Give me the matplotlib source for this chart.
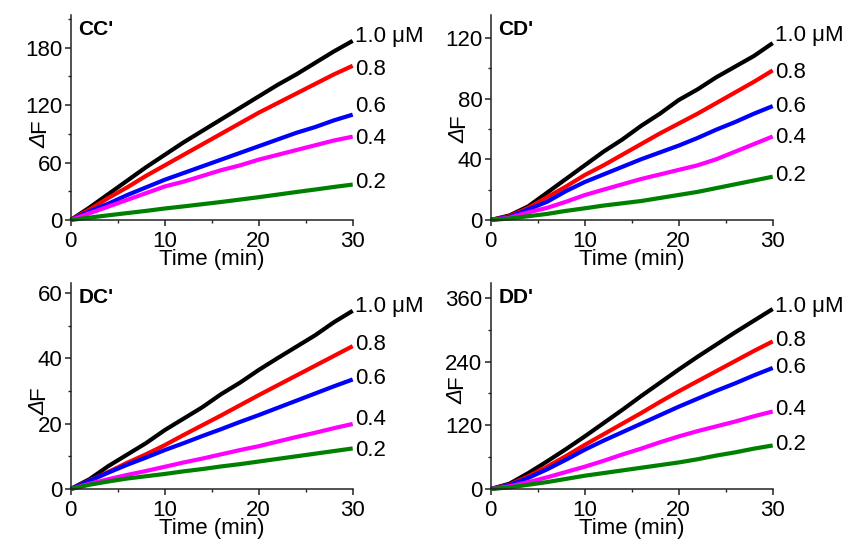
import matplotlib
matplotlib.use("Agg")
import matplotlib.pyplot as plt
from matplotlib.ticker import MultipleLocator

plt.rcParams['font.family'] = ['Liberation Sans', 'DejaVu Sans']

time = [0, 2, 4, 6, 8, 10, 12, 14, 16, 18, 20, 22, 24, 26, 28, 30]
conc_labels = ["1.0 μM", "0.8", "0.6", "0.4", "0.2"]
colors = ["#000000", "#ff0000", "#0000ff", "#ff00ff", "#008000"]

panel_names = ["CC'", "CD'", "DC'", "DD'"]

cc_10 = [0, 13, 27, 41, 55, 68, 81, 93, 105, 117, 129, 141, 152, 164, 176, 187]
cc_08 = [0, 11, 23, 34, 46, 57, 68, 79, 90, 101, 112, 122, 132, 142, 152, 161]
cc_06 = [0, 9, 17, 26, 34, 42, 49, 56, 63, 70, 77, 84, 91, 97, 104, 110]
cc_04 = [0, 7, 14, 21, 28, 35, 40, 46, 52, 57, 63, 68, 73, 78, 83, 87]
cc_02 = [0, 2.5, 4.9, 7.2, 9.5, 12, 14.2, 16.5, 18.8, 21.3, 23.8, 26.5, 29.2, 31.8, 34.5, 37]

cd_10 = [0, 3, 9, 18, 27, 36, 45, 53, 62, 70, 79, 86, 94, 101, 108, 116.5]
cd_08 = [0, 2.5, 8, 15, 22, 29.6, 36, 43, 50, 57, 63.5, 70, 77, 84, 91, 98.5]
cd_06 = [0, 2, 7, 12, 19, 25, 30, 35, 40, 44.5, 49, 54, 59.5, 64.5, 70, 75]
cd_04 = [0, 1.5, 5, 8, 12, 16.4, 20, 23.5, 27, 30, 33, 36, 40, 45, 50, 55]
cd_02 = [0, 1, 2.5, 4, 6, 7.7, 9.5, 11, 12.5, 14.5, 16.5, 18.5, 21, 23.5, 26, 28.5]

dc_10 = [0, 3, 7, 10.5, 14, 18, 21.5, 25, 29, 32.5, 36.4, 40, 43.5, 47, 51, 54.5]
dc_08 = [0, 2.6, 5.2, 8, 10.6, 13.4, 16.5, 19.5, 22.5, 25.6, 28.7, 31.7, 34.7, 37.7, 40.7, 43.7]
dc_06 = [0, 2.5, 5, 7.4, 9.6, 11.9, 14, 16.2, 18.3, 20.5, 22.6, 24.8, 27, 29.2, 31.4, 33.5]
dc_04 = [0, 1.6, 3, 4.3, 5.5, 6.8, 8.1, 9.3, 10.6, 11.9, 13.1, 14.5, 15.9, 17.2, 18.6, 19.9]
dc_02 = [0, 1.3, 2.3, 3.2, 3.9, 4.6, 5.4, 6.1, 6.9, 7.6, 8.4, 9.2, 10, 10.8, 11.6, 12.4]

dd_10 = [0, 10, 30, 52, 75, 99, 124, 149, 175, 200, 225, 249, 272, 295, 317, 339]
dd_08 = [0, 8, 24, 42, 62, 83, 103, 123, 143, 164, 184, 203, 222, 241, 260, 278]
dd_06 = [0, 7, 21, 37, 55, 74, 91, 107, 123, 139, 155, 170, 185, 199, 214, 228]
dd_04 = [0, 5, 13, 22, 32, 42, 53, 65, 76, 88, 99, 109, 118, 127, 137, 146]
dd_02 = [0, 3, 8, 13, 19, 25, 30, 35, 40, 45, 50, 56, 63, 69, 76, 82]

series = [
    [cc_10, cc_08, cc_06, cc_04, cc_02],
    [cd_10, cd_08, cd_06, cd_04, cd_02],
    [dc_10, dc_08, dc_06, dc_04, dc_02],
    [dd_10, dd_08, dd_06, dd_04, dd_02],
]

y_max = [214, 135, 63, 388]
y_major = [60, 40, 20, 120]

# label anchor heights (data units) for the right-side concentration labels
label_y = [
    [191.5, 157, 119, 85, 38.7],
    [121.5, 97.4, 75, 54.4, 29],
    [55.7, 44.3, 33.8, 21.3, 11.9],
    [344, 279, 228, 149, 83],
]

# y-label anchor (right edge, junction between Δ and F) in axes fractions
ylabel_pos = [(-0.072, 0.425), (-0.075, 0.45), (-0.075, 0.43), (-0.082, 0.485)]

# axes rectangles in figure pixels (left, bottom, right, top)
W, H = 847, 540
rects = [
    (70.7, 220, 352.7, 15),
    (490.7, 220, 772.7, 15),
    (70.7, 489, 352.7, 283),
    (490.7, 489, 772.7, 283),
]

fig = plt.figure(figsize=(8.47, 5.40), dpi=100)
for i in range(4):
    x0, yb, x1, yt = rects[i]
    ax = fig.add_axes([x0 / W, (H - yb) / H, (x1 - x0) / W, (yb - yt) / H])
    for vals, col in zip(series[i], colors):
        ax.plot(time, vals, color=col, lw=3.0, solid_capstyle='butt', clip_on=False)
    for lab, ly in zip(conc_labels, label_y[i]):
        ax.text(30.25, ly, lab, fontsize=16, va='center', ha='left')
    ax.text(0.027, 0.975, panel_names[i], transform=ax.transAxes, fontsize=15,
            fontweight='bold', va='top', ha='left')
    ax.set_xlim(0, 30)
    ax.set_ylim(0, y_max[i])
    ax.xaxis.set_major_locator(MultipleLocator(10))
    ax.xaxis.set_minor_locator(MultipleLocator(5))
    ax.yaxis.set_major_locator(MultipleLocator(y_major[i]))
    ax.yaxis.set_minor_locator(MultipleLocator(y_major[i] / 2))
    for s in ['top', 'right']:
        ax.spines[s].set_visible(False)
    for s in ['left', 'bottom']:
        ax.spines[s].set_linewidth(1.1)
        ax.spines[s].set_color('#222222')
    ax.tick_params(which='major', direction='out', length=4, width=1.1,
                   labelsize=16, pad=2, color='#222222')
    ax.tick_params(axis='x', which='major', pad=4)
    ax.tick_params(which='minor', direction='out', length=2.5, width=1.0, color='#222222')
    ax.set_xlabel("Time (min)", fontsize=16, labelpad=-2)
    # y label: italic Δ followed by upright F, rotated
    lx, ly = ylabel_pos[i]
    ax.text(lx, ly, "Δ", transform=ax.transAxes, fontsize=16, fontstyle='italic',
            rotation=90, rotation_mode='anchor', ha='right', va='bottom')
    ax.text(lx, ly, "F", transform=ax.transAxes, fontsize=16,
            rotation=90, rotation_mode='anchor', ha='left', va='bottom')
    ax.patch.set_alpha(0)

fig.savefig("out.png", dpi=100)
